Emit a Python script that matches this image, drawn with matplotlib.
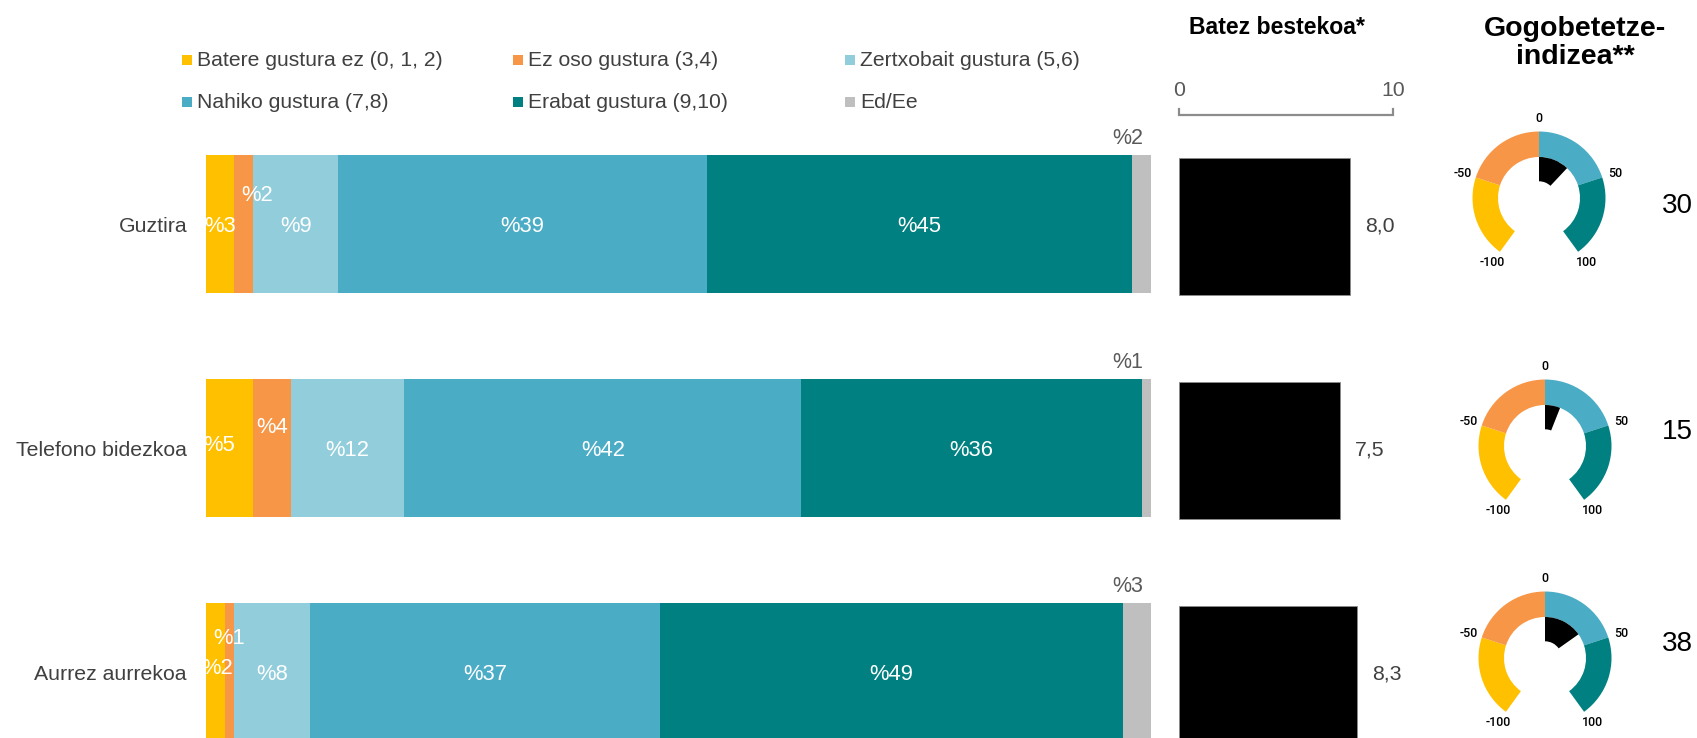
import math
import matplotlib
matplotlib.use("Agg")
import matplotlib.pyplot as plt
from matplotlib.patches import Wedge, Rectangle
from matplotlib.transforms import blended_transform_factory

plt.rcParams['font.family'] = ['Liberation Sans', 'DejaVu Sans']

# ---- data -------------------------------------------------------------
categories = ["Guztira", "Telefono bidezkoa", "Aurrez aurrekoa"]
series_names = ["Batere gustura ez (0, 1, 2)", "Ez oso gustura (3,4)",
                "Zertxobait gustura (5,6)", "Nahiko gustura (7,8)",
                "Erabat gustura (9,10)", "Ed/Ee"]
batere = [3, 5, 2]
ez_oso = [2, 4, 1]
zertxobait = [9, 12, 8]
nahiko = [39, 42, 37]
erabat = [45, 36, 49]
ed_ee = [2, 1, 3]
mean_scores = [8.0, 7.5, 8.3]
satisfaction_index = [30, 15, 38]
gauge_ticks = [-100, -50, 0, 50, 100]
mean_axis_ticks = [0, 10]

series_values = [batere, ez_oso, zertxobait, nahiko, erabat, ed_ee]
series_colors = ["#FFC000", "#F79646", "#92CDDC", "#4BACC6", "#008080", "#BFBFBF"]
gauge_colors = ["#FFC000", "#F79646", "#4BACC6", "#008080"]

TXT = "#404040"
GREY_TXT = "#595959"

W, H = 1697, 738
fig = plt.figure(figsize=(W / 100, H / 100), dpi=100)


def px_axes(x0, y0, x1, y1):
    """Axes placed with a pixel box measured from the top-left corner."""
    return fig.add_axes([x0 / W, 1 - y1 / H, (x1 - x0) / W, (y1 - y0) / H])


def fx(x):
    return x / W


def fy(y):
    return 1 - y / H


PT = 0.72  # points per pixel at 100 dpi
ylims = (2.2946, -1.0)
ypos = list(range(len(categories)))

# ---- stacked percentage bars -----------------------------------------
ax = px_axes(206, 0, 1151, 738)
ax.set_xlim(0, 100)
ax.set_ylim(*ylims)
ax.axis("off")

# nudges (px, right / up) for labels of narrow segments
label_nudge = {
    (0, 1): (-10, 3),
    (0, 2): (2, 4),
    (1, 0): (13, 29),
    (1, 1): (0, 21),
    (1, 2): (-1, 34),
}

lefts = [0.0] * len(categories)
for s, (vals, col) in enumerate(zip(series_values, series_colors)):
    ax.barh(ypos, vals, left=lefts, height=0.62, color=col, linewidth=0)
    for i, v in enumerate(vals):
        if s < len(series_values) - 1:
            dx, dy = label_nudge.get((s, i), (0, -2))
            ax.annotate(f"%{v}", xy=(lefts[i] + v / 2, i),
                        xytext=(dx * PT, dy * PT), textcoords="offset points",
                        ha="center", va="center", color="white", fontsize=15.8)
        else:
            ax.annotate(f"%{v}", xy=(lefts[i] + v, i - 0.31),
                        xytext=(-8 * PT, 16 * PT), textcoords="offset points",
                        ha="right", va="center", color=GREY_TXT, fontsize=15.5)
    lefts = [l + v for l, v in zip(lefts, vals)]

for i, cat in enumerate(categories):
    ax.annotate(cat, xy=(0, i), xytext=(-19 * PT, -2 * PT),
                textcoords="offset points", ha="right", va="center",
                color=TXT, fontsize=15.3)

# ---- legend -------------------------------------------------------------
col_x = [182, 513, 845]
row_y = [60, 102]
for k, (name, col) in enumerate(zip(series_names, series_colors)):
    x = col_x[k % 3]
    y = row_y[k // 3]
    fig.patches.append(Rectangle((fx(x), fy(y + 5)), 10 / W, 10 / H,
                                 transform=fig.transFigure, color=col, lw=0))
    fig.text(fx(x + 15), fy(y), name, ha="left", va="center",
             color=TXT, fontsize=15.2)

# ---- mean score bars ------------------------------------------------------
ax2 = px_axes(1179, 0, 1393.3, 738)
ax2.set_xlim(0, 10)
ax2.set_ylim(*ylims)
ax2.axis("off")
ax2.barh([p + 0.01 for p in ypos], mean_scores, height=0.61,
         color="black", edgecolor="#8c8c8c", linewidth=0.6)
for i, v in enumerate(mean_scores):
    ax2.annotate(f"{v:.1f}".replace(".", ","), xy=(v, i + 0.01),
                 xytext=(15 * PT, 0), textcoords="offset points",
                 ha="left", va="center", color=TXT, fontsize=15.3)

bt = blended_transform_factory(ax2.transData, fig.transFigure)
t0, t1 = mean_axis_ticks
ax2.plot([t0, t0, t1, t1], [fy(109), fy(115), fy(115), fy(109)],
         transform=bt, color="#8c8c8c", lw=1.6, clip_on=False,
         solid_joinstyle="miter")
for t in mean_axis_ticks:
    ax2.text(t, fy(90), str(t), transform=bt, ha="center", va="center",
             color=GREY_TXT, fontsize=15.3)

fig.text(fx(1277), fy(28), "Batez bestekoa*", ha="center", va="center",
         fontweight="bold", fontsize=16.6, color="black")

# ---- satisfaction index gauges -------------------------------------------
fig.text(fx(1575), fy(43), "Gogobetetze-\nindizea**", ha="center",
         va="center", fontweight="bold", fontsize=20.5, color="black",
         linespacing=1.05)

R_OUT, R_IN, R_NEEDLE = 66.5, 41.0, 16.7
SPAN = 1.44  # degrees per index point


def theta(v):
    return 90 - v * SPAN


gauge_centers = [(1539, 198), (1545, 446), (1545, 658)]
number_y = [206, 432, 644]

for (cx, cy), val, ny in zip(gauge_centers, satisfaction_index, number_y):
    g = px_axes(cx - 100, cy - 100, cx + 100, cy + 100)
    g.set_xlim(-100, 100)
    g.set_ylim(-100, 100)
    g.axis("off")
    for a, b, col in zip(gauge_ticks[:-1], gauge_ticks[1:], gauge_colors):
        g.add_patch(Wedge((0, 0), R_OUT, theta(b), theta(a),
                          width=R_OUT - R_IN, color=col, lw=0))
    g.add_patch(Wedge((0, 0), R_IN, theta(val), 90,
                      width=R_IN - R_NEEDLE, color="black", lw=0))
    for t in gauge_ticks:
        ang = math.radians(theta(t))
        g.text(80 * math.cos(ang), 80 * math.sin(ang), str(t),
               ha="center", va="center", fontsize=9, color="black",
               family="Roboto", fontweight="medium", clip_on=False)
    fig.text(fx(1677), fy(ny), str(val), ha="center", va="center",
             fontsize=20, color="black")

fig.savefig("out.png", dpi=100)
